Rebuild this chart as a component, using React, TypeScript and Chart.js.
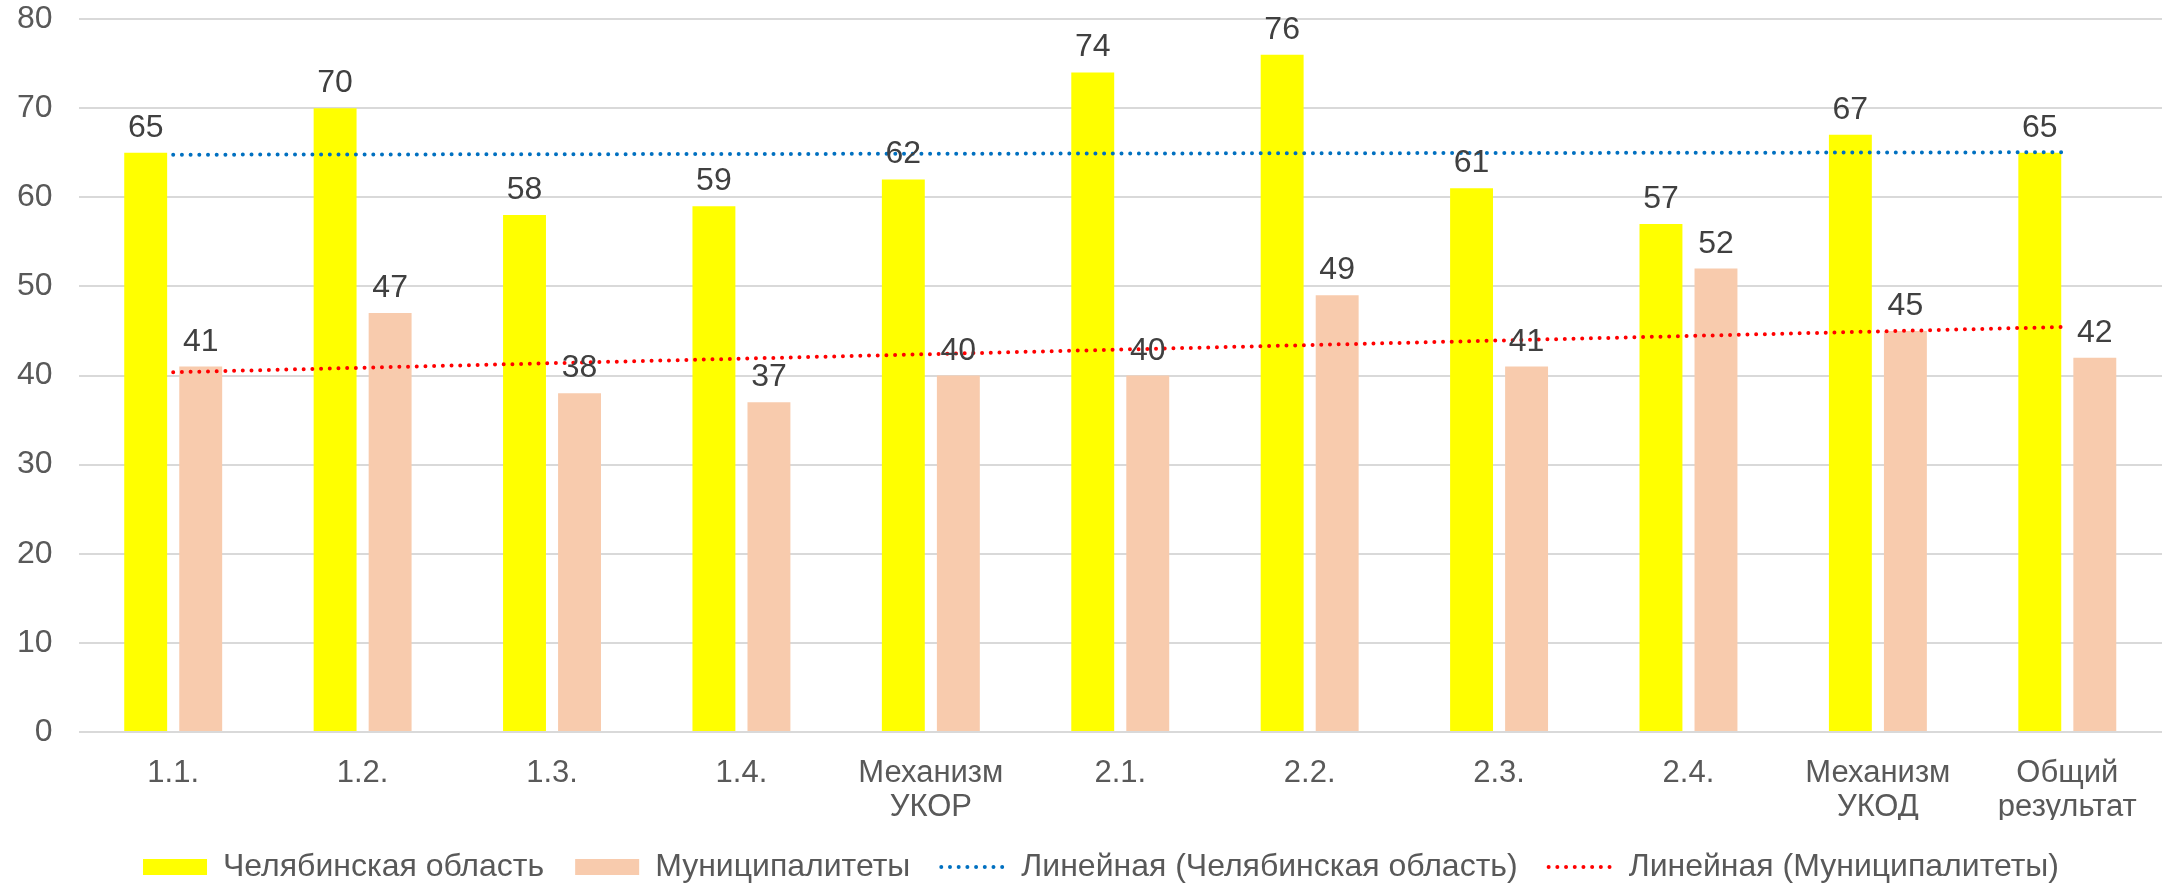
import React, { useEffect, useRef } from "react";
import { Chart, registerables } from "chart.js";

Chart.register(...registerables);

const categories: (string | string[])[] = [
  "1.1.", "1.2.", "1.3.", "1.4.", ["Механизм", "УКОР"],
  "2.1.", "2.2.", "2.3.", "2.4.", ["Механизм", "УКОД"], ["Общий", "результат"],
];
const regionValues = [65, 70, 58, 59, 62, 74, 76, 61, 57, 67, 65];
const municipalValues = [41, 47, 38, 37, 40, 40, 49, 41, 52, 45, 42];
const seriesNames = [
  "Челябинская область",
  "Муниципалитеты",
  "Линейная (Челябинская область)",
  "Линейная (Муниципалитеты)",
];
const yTicks = { min: 0, max: 80, step: 10 };

const FONT = "'Liberation Sans', Arial, sans-serif";
const YELLOW = "#ffff00";
const SALMON = "#f8cbad";
const BLUE = "#0070c0";
const RED = "#ff0000";
const TEXT = "#595959";

// Excel-style linear trendline (least squares) computed from the bar values
function linearTrend(values: number[]): number[] {
  const n = values.length;
  const xs = values.map((_, i) => i + 1);
  const mx = xs.reduce((a, b) => a + b, 0) / n;
  const my = values.reduce((a, b) => a + b, 0) / n;
  let sxy = 0, sxx = 0;
  for (let i = 0; i < n; i++) {
    sxy += (xs[i] - mx) * (values[i] - my);
    sxx += (xs[i] - mx) * (xs[i] - mx);
  }
  const slope = sxy / sxx;
  return xs.map((x) => my + slope * (x - mx));
}

const valueLabels = {
  id: "valueLabels",
  afterDatasetsDraw(chart: any) {
    const ctx = chart.ctx;
    ctx.save();
    ctx.font = `32px ${FONT}`;
    ctx.fillStyle = "#404040";
    ctx.textAlign = "center";
    ctx.textBaseline = "alphabetic";
    chart.data.datasets.forEach((ds: any, di: number) => {
      if (ds.type !== "bar") return;
      const meta = chart.getDatasetMeta(di);
      meta.data.forEach((el: any, i: number) => {
        ctx.fillText(String(ds.data[i]), el.x, el.y - 16);
      });
    });
    ctx.restore();
  },
};

// The reference legend sits slightly right of centre
const legendShift = {
  id: "legendShift",
  afterLayout(chart: any) {
    if (chart.legend) chart.legend.left = 40;
  },
};

export default function App() {
  const ref = useRef<HTMLCanvasElement | null>(null);
  useEffect(() => {
    if (!ref.current) return;
    const dotted = [0, 8.7];
    const chart = new Chart(ref.current, {
      type: "bar",
      data: {
        labels: categories as any,
        datasets: [
          {
            type: "bar",
            label: seriesNames[0],
            data: regionValues,
            backgroundColor: YELLOW,
            categoryPercentage: 0.581,
            barPercentage: 0.78,
            order: 1,
          },
          {
            type: "bar",
            label: seriesNames[1],
            data: municipalValues,
            backgroundColor: SALMON,
            categoryPercentage: 0.581,
            barPercentage: 0.78,
            order: 1,
          },
          {
            type: "line",
            label: seriesNames[2],
            data: linearTrend(regionValues),
            borderColor: BLUE,
            borderWidth: 4,
            borderDash: dotted,
            borderCapStyle: "round",
            pointRadius: 0,
            fill: false,
            order: 0,
          },
          {
            type: "line",
            label: seriesNames[3],
            data: linearTrend(municipalValues),
            borderColor: RED,
            borderWidth: 4,
            borderDash: dotted,
            borderCapStyle: "round",
            pointRadius: 0,
            fill: false,
            order: 0,
          },
        ] as any,
      },
      options: {
        responsive: false,
        animation: false,
        layout: { padding: { top: 0, left: 0, right: 0, bottom: 0 } },
        plugins: {
          tooltip: { enabled: false },
          legend: {
            position: "bottom",
            labels: {
              usePointStyle: true,
              pointStyleWidth: 64,
              boxHeight: 16,
              padding: 31,
              color: TEXT,
              font: { family: FONT, size: 32 },
              generateLabels: () => [
                { text: seriesNames[0], fillStyle: YELLOW, strokeStyle: YELLOW, lineWidth: 0, pointStyle: "rect", datasetIndex: 0, hidden: false, fontColor: TEXT },
                { text: seriesNames[1], fillStyle: SALMON, strokeStyle: SALMON, lineWidth: 0, pointStyle: "rect", datasetIndex: 1, hidden: false, fontColor: TEXT },
                { text: seriesNames[2], fillStyle: "rgba(0,0,0,0)", strokeStyle: BLUE, lineWidth: 4, lineDash: dotted, lineCap: "round", pointStyle: "line", datasetIndex: 2, hidden: false, fontColor: TEXT },
                { text: seriesNames[3], fillStyle: "rgba(0,0,0,0)", strokeStyle: RED, lineWidth: 4, lineDash: dotted, lineCap: "round", pointStyle: "line", datasetIndex: 3, hidden: false, fontColor: TEXT },
              ] as any,
            },
          },
        },
        scales: {
          x: {
            grid: { display: false, drawTicks: false },
            border: { display: false },
            ticks: {
              color: TEXT,
              font: { family: FONT, size: 31, lineHeight: 1.097 },
              padding: 24,
              maxRotation: 0,
              autoSkip: false,
            },
            afterFit: (scale: any) => {
              scale.height = 88;
            },
          },
          y: {
            min: yTicks.min,
            max: yTicks.max,
            border: { display: false },
            grid: { color: "#d9d9d9", lineWidth: 2, drawTicks: false },
            ticks: {
              stepSize: yTicks.step,
              color: TEXT,
              font: { family: FONT, size: 32 },
              padding: 26,
            },
            afterFit: (scale: any) => {
              scale.width = 78.5;
              scale.paddingTop = 19;
              scale.paddingBottom = 0;
            },
          },
        },
      },
      plugins: [valueLabels, legendShift],
    });
    return () => chart.destroy();
  }, []);
  return (
    <div style={{ position: "fixed", left: 0, top: 0, width: 2162, height: 886, overflow: "hidden", background: "#fff" }}>
      <canvas ref={ref} width={2162} height={893} style={{ display: "block" }} />
    </div>
  );
}
